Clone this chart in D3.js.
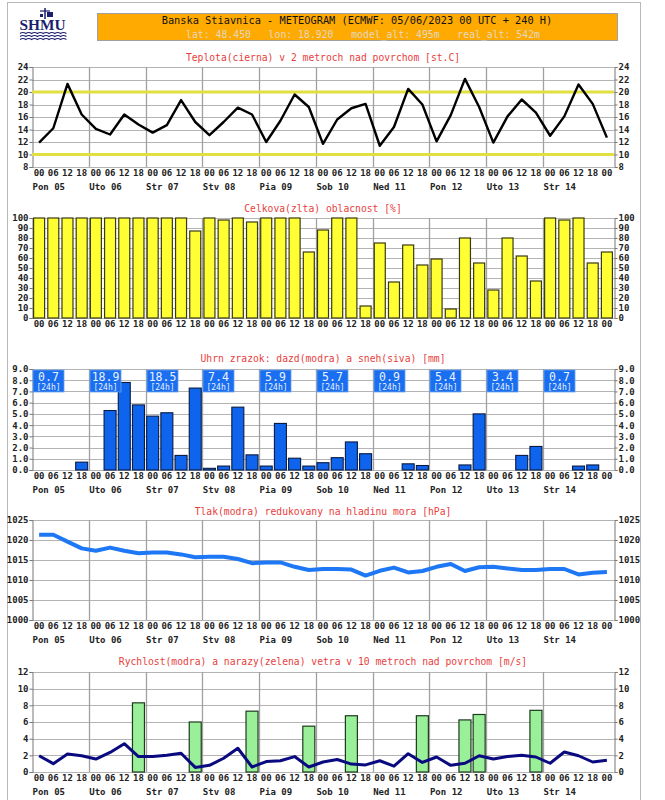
<!DOCTYPE html>
<html><head><meta charset="utf-8">
<script src="https://cdn.jsdelivr.net/npm/d3@7"></script>
<style>
body{margin:0;background:#fff;}
svg{display:block;}
.tk text{font-family:"DejaVu Sans Mono",monospace;font-size:9px;font-weight:bold;fill:#222;}
.ttl{font-family:"DejaVu Sans Mono",monospace;font-size:9.7px;fill:#e8403c;}
.day{font-family:"DejaVu Sans Mono",monospace;font-size:9px;font-weight:bold;fill:#222;}
</style></head><body>
<script>
// ---------- DATA ----------
const hours = ["00","06","12","18"];
const days = ["Pon 05","Uto 06","Str 07","Stv 08","Pia 09","Sob 10","Ned 11","Pon 12","Uto 13","Str 14"];
const temperature = [11.9,14.2,21.3,16.4,14.1,13.2,16.4,14.8,13.5,14.7,18.7,15.2,13.1,15.2,17.5,16.4,12.0,15.4,19.6,17.6,11.7,15.6,17.4,18.1,11.4,14.4,20.5,18.0,12.1,16.3,22.1,17.6,11.9,16.1,18.8,16.7,13.0,16.1,21.2,18.1,12.7];
const cloud = [100,100,100,100,100,100,100,100,100,100,100,87,100,98,100,96,100,100,100,66,88,100,100,12,75,36,73,53,59,9,80,55,28,80,62,37,100,98,100,55,66];
const precip = [0,0,0,0.7,0,5.3,7.8,5.8,4.8,5.1,1.3,7.3,0.15,0.35,5.6,1.35,0.35,4.15,1.05,0.35,0.65,1.1,2.5,1.45,0,0,0.55,0.4,0,0,0.45,5.0,0,0,1.3,2.1,0,0,0.35,0.45,0];
const precip24 = ["0.7","18.9","18.5","7.4","5.9","5.7","0.9","5.4","3.4","0.7"];
const pressure = [1021.3,1021.3,1019.6,1017.9,1017.3,1018.1,1017.3,1016.7,1016.9,1016.9,1016.4,1015.7,1015.8,1015.8,1015.25,1014.2,1014.4,1014.4,1013.3,1012.5,1012.75,1012.75,1012.6,1011.1,1012.3,1013.1,1011.9,1012.25,1013.3,1014.0,1012.25,1013.2,1013.3,1012.9,1012.5,1012.5,1012.75,1012.75,1011.4,1011.8,1012.0];
const wind = [1.95,1.0,2.15,1.95,1.55,2.35,3.4,1.85,1.85,2.0,2.25,0.55,0.8,1.65,2.85,0.6,1.25,1.35,1.85,0.6,1.2,1.5,0.95,0.85,1.35,0.7,2.2,1.15,1.8,0.8,1.05,1.95,1.55,1.85,2.0,1.8,1.05,2.4,1.95,1.2,1.4];
const gusts = [null,null,null,null,null,null,null,8.3,null,null,null,6.0,null,null,null,7.3,null,null,null,5.5,null,null,6.75,null,null,null,null,6.75,null,null,6.25,6.9,null,null,null,7.4,null,null,null,null,null];
const tempTicks = [8,10,12,14,16,18,20,22,24];
const cloudTicks = [0,10,20,30,40,50,60,70,80,90,100];
const precipTicks = [0,1,2,3,4,5,6,7,8,9];
const pressTicks = [1000,1005,1010,1015,1020,1025];
const windTicks = [0,2,4,6,8,10,12];
const tempRefLines = [10,20];
const titleMain = "Banska Stiavnica - METEOGRAM (ECMWF: 05/06/2023 00 UTC + 240 H)";
const titleSub = "lat: 48.450   lon: 18.920   model_alt: 495m   real_alt: 542m";

// ---------- LAYOUT ----------
const W = 665, H = 800;
const svg = d3.select("body").append("svg").attr("width", W).attr("height", H);
svg.append("rect").attr("x",7.5).attr("y",2.5).attr("width",633).attr("height",H).attr("fill","none").attr("stroke","#b8b8b8");

const idx = d3.range(temperature.length);
const x = d3.scaleBand().domain(idx).range([32, 614]).padding(0);
const cx = i => x(i) + x.bandwidth()/2;

// header
svg.append("rect").attr("x",97.5).attr("y",13.5).attr("width",520).attr("height",27).attr("fill","#ffaa00").attr("stroke","#a0a0a0");
svg.append("text").attr("x",357).attr("y",24).attr("text-anchor","middle")
  .style("font-family","DejaVu Sans Mono,monospace").style("font-size","10.3px").attr("fill","#111").text(titleMain);
svg.append("text").attr("x",363).attr("y",37.5).attr("text-anchor","middle").style("white-space","pre")
  .style("font-family","DejaVu Sans Mono,monospace").style("font-size","9.8px").attr("fill","#e2d8c0").text(titleSub);

// logo
const logo = svg.append("g").attr("fill","#1c1f6e").attr("stroke","#1c1f6e");
logo.append("line").attr("x1",45).attr("x2",45).attr("y1",8).attr("y2",19).attr("stroke-width",1.5);
logo.append("line").attr("x1",40).attr("x2",50).attr("y1",11).attr("y2",11).attr("stroke-width",1.2);
logo.append("rect").attr("x",47).attr("y",12).attr("width",6).attr("height",5).attr("stroke","none");
logo.append("rect").attr("x",40).attr("y",14).attr("width",3).attr("height",3).attr("stroke","none");
logo.append("text").attr("x",42.5).attr("y",30).attr("text-anchor","middle").attr("stroke","none")
  .style("font-family","Liberation Serif,serif").style("font-weight","bold").style("font-size","15px")
  .attr("textLength",46).attr("lengthAdjust","spacingAndGlyphs").text("SHMU");
for (let k=0;k<3;k++){
  const yy = 33.5 + k*3;
  let p = `M20,${yy}`;
  for (let s=0;s<8;s++){ p += ` q2.9,${-2} 5.8,0`; }
  logo.append("path").attr("d",p).attr("fill","none").attr("stroke-width",1.1);
}

// panel helper
function panel(cfg){
  const g = svg.append("g");
  const y = d3.scaleLinear().domain(cfg.domain).range([cfg.y0, cfg.y1]);
  g.selectAll(".hg").data(cfg.ticks).join("line")
    .attr("x1",32).attr("x2",614).attr("y1",d=>Math.round(y(d))+0.5).attr("y2",d=>Math.round(y(d))+0.5)
    .attr("stroke","#b4b4b4").attr("stroke-width",1);
  g.selectAll(".vg").data(d3.range(1,10)).join("line")
    .attr("x1",d=>Math.round(x(d*4))+0.5).attr("x2",d=>Math.round(x(d*4))+0.5)
    .attr("y1",cfg.y1).attr("y2",cfg.y0)
    .attr("stroke","#a0a0a0").attr("stroke-width",1.3);
  const fmt = cfg.fmt || (d=>d);
  const aL = g.append("g").attr("class","tk").attr("transform","translate(32.5,0)")
    .call(d3.axisLeft(y).tickValues(cfg.ticks).tickSize(3).tickPadding(1).tickFormat(fmt));
  const aR = g.append("g").attr("class","tk").attr("transform","translate(614.5,0)")
    .call(d3.axisRight(y).tickValues(cfg.ticks).tickSize(3).tickPadding(1).tickFormat(fmt));
  [aL,aR].forEach(a=>{a.selectAll("path,line").attr("stroke","#777");});
  const ax = g.append("g").attr("class","tk").attr("transform",`translate(0,${cfg.y0})`)
    .call(d3.axisBottom(x).tickSize(0).tickPadding(3).tickFormat(i=>hours[i%4]));
  ax.select(".domain").remove();
  g.append("text").attr("class","ttl").attr("x",323).attr("y",cfg.titleY).attr("text-anchor","middle").text(cfg.title);
  if (cfg.dayLabels){
    g.selectAll(".dl").data(days).join("text").attr("class","day")
      .attr("x",(d,i)=>x(i*4)+0.5).attr("y",cfg.y0+23).text(d=>d);
  }
  return {g,y};
}

// ---- temperature ----
{
  const p = panel({domain:[8,24], y0:167, y1:67, ticks:tempTicks, title:"Teplota(cierna) v 2 metroch nad povrchom [st.C]", titleY:61, dayLabels:true});
  p.g.selectAll(".ref").data(tempRefLines).join("line")
    .attr("x1",32).attr("x2",614).attr("y1",d=>p.y(d)).attr("y2",d=>p.y(d))
    .attr("stroke","#e0e040").attr("stroke-width",3);
  p.g.append("path").datum(temperature)
    .attr("d", d3.line().x((d,i)=>cx(i)).y(d=>p.y(d)))
    .attr("fill","none").attr("stroke","#000").attr("stroke-width",2.4).attr("stroke-linejoin","round");
}

// ---- cloud ----
{
  const p = panel({domain:[0,100], y0:318, y1:218, ticks:cloudTicks, title:"Celkova(zlta) oblacnost [%]", titleY:212, dayLabels:false});
  p.g.selectAll(".cb").data(cloud).join("rect")
    .attr("x",(d,i)=>cx(i)-5.5).attr("width",11)
    .attr("y",d=>p.y(d)).attr("height",d=>p.y(0)-p.y(d))
    .attr("fill","#ffff33").attr("stroke","#3a3a10").attr("stroke-width",1.2);
}

// ---- precipitation ----
{
  const p = panel({domain:[0,9], y0:470, y1:369, ticks:precipTicks, fmt:d3.format(".1f"), title:"Uhrn zrazok: dazd(modra) a sneh(siva) [mm]", titleY:362, dayLabels:true});
  p.g.selectAll(".pb").data(precip).join("rect")
    .attr("x",(d,i)=>cx(i)-6).attr("width",12)
    .attr("y",d=>p.y(d)).attr("height",d=>p.y(0)-p.y(d))
    .attr("fill","#0f64ee").attr("stroke","#0a1a40").attr("stroke-width",1.1)
    .attr("display",d=>d>0?null:"none");
  const bx = p.g.selectAll(".bx").data(precip24).join("g")
    .attr("transform",(d,i)=>`translate(${Math.round(x(i*4))+1},370)`);
  bx.append("rect").attr("width",31).attr("height",22).attr("fill","#1a6ef0").attr("stroke","#6aa0f0").attr("stroke-width",0.8);
  bx.append("text").attr("x",15.5).attr("y",11).attr("text-anchor","middle")
    .style("font-family","DejaVu Sans Mono,monospace").style("font-size","11.5px").attr("fill","#eaf2ff").text(d=>d);
  bx.append("text").attr("x",15.5).attr("y",19.5).attr("text-anchor","middle")
    .style("font-family","DejaVu Sans Mono,monospace").style("font-size","8px").attr("fill","#eaf2ff").text("[24h]");
}

// ---- pressure ----
{
  const p = panel({domain:[1000,1025], y0:620, y1:520, ticks:pressTicks, title:"Tlak(modra) redukovany na hladinu mora [hPa]", titleY:515, dayLabels:true});
  p.g.append("path").datum(pressure)
    .attr("d", d3.line().x((d,i)=>cx(i)).y(d=>p.y(d)))
    .attr("fill","none").attr("stroke","#1e78f5").attr("stroke-width",4).attr("stroke-linejoin","round");
}

// ---- wind ----
{
  const p = panel({domain:[0,12], y0:772, y1:672, ticks:windTicks, title:"Rychlost(modra) a narazy(zelena) vetra v 10 metroch nad povrchom [m/s]", titleY:665, dayLabels:true});
  p.g.selectAll(".gb").data(gusts.map((v,i)=>({v,i})).filter(d=>d.v!==null)).join("rect")
    .attr("x",d=>cx(d.i)-6).attr("width",12)
    .attr("y",d=>p.y(d.v)).attr("height",d=>p.y(0)-p.y(d.v))
    .attr("fill","#99f099").attr("stroke","#1e3a1e").attr("stroke-width",1.2);
  p.g.append("path").datum(wind)
    .attr("d", d3.line().x((d,i)=>cx(i)).y(d=>p.y(d)))
    .attr("fill","none").attr("stroke","#0a0a80").attr("stroke-width",3).attr("stroke-linejoin","round");
}
</script>
</body></html>
